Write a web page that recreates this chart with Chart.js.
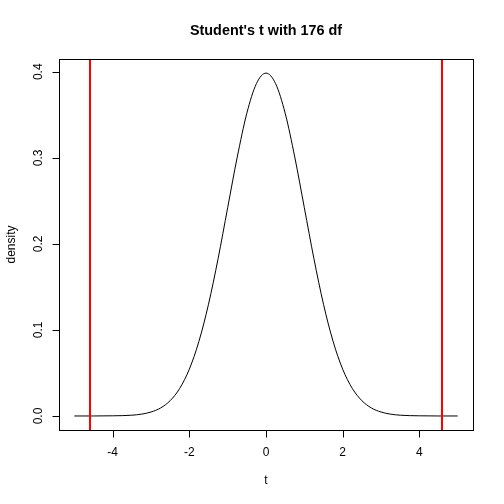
<!DOCTYPE html>
<html>
<head>
<meta charset="utf-8">
<script src="https://cdn.jsdelivr.net/npm/chart.js@4/dist/chart.umd.min.js"></script>
<style>
  html, body { margin: 0; padding: 0; background: #fff; }
  #wrap { width: 504px; height: 504px; }
</style>
</head>
<body>
<div id="wrap"><canvas id="myChart" width="504" height="504"></canvas></div>
<script>
// DATA
const tValues = [-5, -4.75, -4.5, -4.25, -4, -3.75, -3.5, -3.25, -3, -2.75, -2.5, -2.25, -2, -1.75, -1.5, -1.25, -1, -0.75, -0.5, -0.25,
  0, 0.25, 0.5, 0.75, 1, 1.25, 1.5, 1.75, 2, 2.25, 2.5, 2.75, 3, 3.25, 3.5, 3.75, 4, 4.25, 4.5, 4.75, 5];
const density = [0, 0, 0, 0.0001, 0.0002, 0.0004, 0.0009, 0.0021, 0.0046, 0.0093, 0.0178, 0.0321, 0.0544, 0.0867, 0.1298, 0.1828, 0.2420, 0.3009, 0.3518, 0.3862,
  0.3984, 0.3862, 0.3518, 0.3009, 0.2420, 0.1828, 0.1298, 0.0867, 0.0544, 0.0321, 0.0178, 0.0093, 0.0046, 0.0021, 0.0009, 0.0004, 0.0002, 0.0001, 0, 0, 0];
const criticalValues = [-4.6, 4.6];
const xTicks = [-4, -2, 0, 2, 4];
const yTicks = [0, 0.1, 0.2, 0.3, 0.4];
const yTickLabels = ["0.0", "0.1", "0.2", "0.3", "0.4"];

const titleText = "Student's t with 176 df";
const FONT = '"Liberation Sans", Arial, Helvetica, sans-serif';

// R-style frame, ticks, labels and the red reference lines
const rStyle = {
  id: "rStyle",
  afterDatasetsDraw(chart) {
    const c = chart.ctx;
    const area = chart.chartArea;
    const xs = chart.scales.x;
    const ys = chart.scales.y;

    // red vertical lines
    c.save();
    c.strokeStyle = "#ff0000";
    c.lineWidth = 2;
    criticalValues.forEach(v => {
      const px = Math.round(xs.getPixelForValue(v));
      c.beginPath();
      c.moveTo(px, area.top);
      c.lineTo(px, area.bottom);
      c.stroke();
    });

    // box
    c.strokeStyle = "#000";
    c.lineWidth = 1;
    c.strokeRect(Math.round(area.left) + 0.5, Math.round(area.top) + 0.5,
      Math.round(area.right - area.left), Math.round(area.bottom - area.top));

    // x axis
    const yb = Math.round(area.bottom) + 0.5;
    c.beginPath();
    c.moveTo(Math.round(xs.getPixelForValue(xTicks[0])) + 0.5, yb);
    c.lineTo(Math.round(xs.getPixelForValue(xTicks[xTicks.length - 1])) + 0.5, yb);
    xTicks.forEach(v => {
      const px = Math.round(xs.getPixelForValue(v)) + 0.5;
      c.moveTo(px, yb);
      c.lineTo(px, yb + 7);
    });
    c.stroke();
    c.fillStyle = "#000";
    c.font = "12px " + FONT;
    c.textAlign = "center";
    c.textBaseline = "middle";
    xTicks.forEach(v => {
      c.fillText(String(v), xs.getPixelForValue(v), yb + 22);
    });

    // y axis
    const xl = Math.round(area.left) + 0.5;
    c.beginPath();
    c.moveTo(xl, Math.round(ys.getPixelForValue(yTicks[0])) + 0.5);
    c.lineTo(xl, Math.round(ys.getPixelForValue(yTicks[yTicks.length - 1])) + 0.5);
    yTicks.forEach(v => {
      const py = Math.round(ys.getPixelForValue(v)) + 0.5;
      c.moveTo(xl, py);
      c.lineTo(xl - 7, py);
    });
    c.stroke();
    yTicks.forEach((v, i) => {
      c.save();
      c.translate(xl - 21, ys.getPixelForValue(v));
      c.rotate(-Math.PI / 2);
      c.fillText(yTickLabels[i], 0, 0);
      c.restore();
    });

    // axis titles
    c.fillText("t", (area.left + area.right) / 2, 481);
    c.save();
    c.translate(12, (area.top + area.bottom) / 2);
    c.rotate(-Math.PI / 2);
    c.fillText("density", 0, 0);
    c.restore();

    // main title
    c.font = "bold 14.4px " + FONT;
    c.fillText(titleText, (area.left + area.right) / 2, 31);
    c.restore();
  }
};

const ctx = document.getElementById("myChart");
const myChart = new Chart(ctx, {
  type: "scatter",
  data: {
    datasets: [{
      label: "density",
      data: tValues.map((t, i) => ({ x: t, y: density[i] })),
      showLine: true,
      borderColor: "#000",
      borderWidth: 1,
      pointRadius: 0,
      cubicInterpolationMode: "monotone",
      fill: false
    }]
  },
  options: {
    responsive: false,
    animation: false,
    events: [],
    layout: { padding: { left: 59, top: 59, right: 31, bottom: 74 } },
    plugins: {
      legend: { display: false },
      tooltip: { enabled: false },
      title: { display: false }
    },
    scales: {
      x: { type: "linear", min: -5.4, max: 5.4, display: false },
      y: { type: "linear", min: -0.0163, max: 0.4148, display: false }
    }
  },
  plugins: [rStyle]
});
</script>
</body>
</html>
